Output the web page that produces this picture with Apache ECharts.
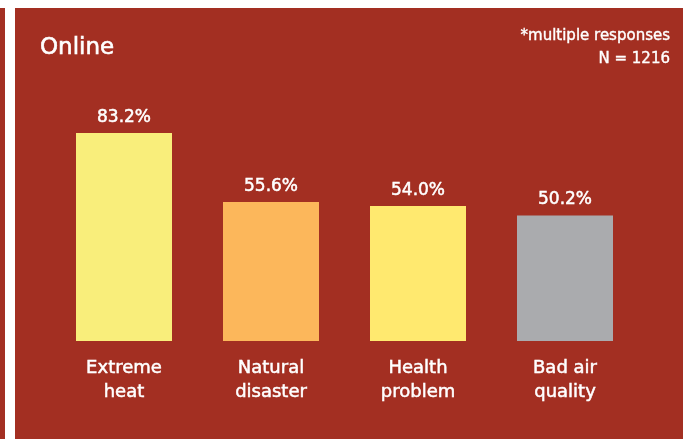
<!DOCTYPE html>
<html><head><meta charset="utf-8">
<script src="https://cdn.jsdelivr.net/npm/echarts@6/dist/echarts.min.js"></script>
<style>html,body{margin:0;padding:0;background:#fff}#c{width:683px;height:439px}</style>
</head><body><div id="c"></div>
<script>
const categories = ["Extreme\nheat", "Natural\ndisaster", "Health\nproblem", "Bad air\nquality"];
const values = [83.2, 55.6, 54.0, 50.2];
const barColors = ["#F9EE7B", "#FCB75B", "#FFE96F", "#AAABAE"];
const title = "Online";
const noteLines = ["*multiple responses", "N = 1216"];

const FONT = "'DejaVu Sans', sans-serif";
const STROKE = {textBorderColor: '#ffffff', textBorderWidth: 0.5};
const chart = echarts.init(document.getElementById('c'), null, {renderer: 'canvas'});
chart.setOption({
  backgroundColor: '#ffffff',
  animation: false,
  graphic: [
    {type: 'rect', z: -10, shape: {x: 0, y: 8, width: 5, height: 431}, style: {fill: '#A32F22'}},
    {type: 'rect', z: -10, shape: {x: 15, y: 8, width: 668, height: 431}, style: {fill: '#A32F22'}},
    {type: 'text', x: 40, y: 48, style: {text: title, fill: '#ffffff', font: 'normal 23px ' + FONT, verticalAlign: 'middle', stroke: '#ffffff', lineWidth: 0.6}},
    {type: 'text', x: 670, y: 36, style: {text: noteLines[0], fill: '#ffffff', font: 'normal 15px ' + FONT, align: 'right', verticalAlign: 'middle', stroke: '#ffffff', lineWidth: 0.4}},
    {type: 'text', x: 670, y: 59, style: {text: noteLines[1], fill: '#ffffff', font: 'normal 15px ' + FONT, align: 'right', verticalAlign: 'middle', stroke: '#ffffff', lineWidth: 0.4}}
  ],
  grid: {left: 50.5, right: 44.5, top: 91, bottom: 98},
  xAxis: {
    type: 'category', data: categories,
    axisLine: {show: false}, axisTick: {show: false},
    axisLabel: Object.assign({color: '#ffffff', fontSize: 18, fontFamily: FONT, lineHeight: 24, margin: 15, interval: 0}, STROKE)
  },
  yAxis: {type: 'value', min: 0, max: 100, show: false, splitLine: {show: false}},
  series: [{
    type: 'bar', barWidth: 96,
    data: values.map((v, i) => ({value: v, itemStyle: {color: barColors[i]}})),
    label: Object.assign({show: true, position: 'top', distance: 7, color: '#ffffff', fontSize: 17, fontFamily: FONT,
      formatter: p => p.value.toFixed(1) + '%'}, STROKE)
  }]
});
</script></body></html>
